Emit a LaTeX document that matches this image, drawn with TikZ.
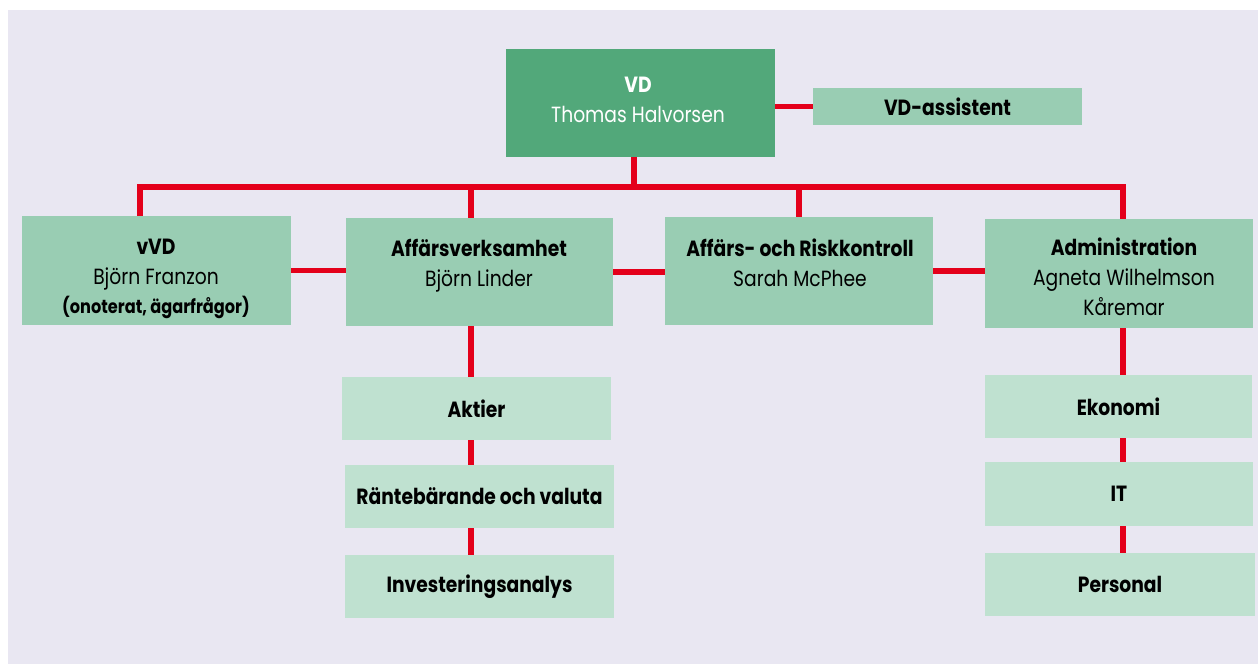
\documentclass[tikz,border=0pt]{standalone}
\usepackage{fontspec}
\setmainfont[FakeStretch=0.85]{Poppins}
\usetikzlibrary{backgrounds}
\definecolor{bg}{HTML}{E9E7F2}
\definecolor{vdgreen}{HTML}{52A87A}
\definecolor{midgreen}{HTML}{99CDB3}
\definecolor{lightgreen}{HTML}{BFE1D0}
\definecolor{linkred}{HTML}{E4001B}
\begin{document}
\begin{tikzpicture}[x=1pt,y=-1pt,
  box/.style={rectangle, inner sep=0pt, align=center, font=\fontsize{22}{30}\selectfont},
  vdbox/.style={box, fill=vdgreen},
  midbox/.style={box, fill=midgreen},
  lightbox/.style={box, fill=lightgreen, font=\fontsize{22}{30}\selectfont\bfseries},
  txt/.style={inner sep=0pt, align=center, anchor=base, font=\fontsize{22}{30}\selectfont},
  link/.style={draw=linkred, line width=5.5pt, line join=miter}
]
\useasboundingbox (0,0) rectangle (1258,664);
% boxes (text nodes anchored at the baseline of their last line)
\node[vdbox, minimum width=269pt, minimum height=108pt] (vd) at (640.5,103) {};
\node[txt, text=white] (vd-t) at (638,122) {\textbf{VD}\\Thomas Halvorsen};
\node[midbox, minimum width=269pt, minimum height=37pt, font=\fontsize{22}{30}\selectfont\bfseries] (assist) at (947.5,106.5) {VD-assistent};
\node[midbox, minimum width=269pt, minimum height=109pt] (vvd) at (156.5,270.5) {};
\node[txt] (vvd-t) at (156,313) {\textbf{vVD}\\Björn Franzon\\[-1pt]{\fontsize{19}{22}\selectfont\bfseries (onoterat, ägarfrågor)}};
\node[midbox, minimum width=267pt, minimum height=108pt] (aff) at (479.5,272) {};
\node[txt] (aff-t) at (479,286) {\textbf{Affärsverksamhet}\\Björn Linder};
\node[midbox, minimum width=268pt, minimum height=108pt] (risk) at (799,271) {};
\node[txt] (risk-t) at (800,286) {\textbf{Affärs- och Riskkontroll}\\Sarah McPhee};
\node[midbox, minimum width=268pt, minimum height=109pt] (adm) at (1119,273.5) {};
\node[txt] (adm-t) at (1124,315) {\textbf{Administration}\\Agneta Wilhelmson\\Kåremar};
\node[lightbox, minimum width=269pt, minimum height=63pt] (aktier) at (476.5,408.5) {Aktier};
\node[lightbox, minimum width=269pt, minimum height=63pt] (ranta) at (479.5,496.5) {Räntebärande och valuta};
\node[lightbox, minimum width=269pt, minimum height=63pt] (inv) at (479.5,586.5) {Investeringsanalys};
\node[lightbox, minimum width=267pt, minimum height=63pt] (ekon) at (1118.5,406.5) {Ekonomi};
\node[lightbox, minimum width=268pt, minimum height=64pt] (it) at (1119,494) {IT};
\node[lightbox, minimum width=270pt, minimum height=63pt] (pers) at (1120,584.5) {Personal};
% connectors
\begin{pgfonlayer}{background}
\fill[bg] (8,10) rectangle (1258,664);
\coordinate (bus) at (634,187);
\coordinate (bL) at (140,187);
\coordinate (bR) at (1123,187);
\coordinate (xa) at (471,187);
\coordinate (xr) at (799,187);
\draw[link] (vd.east |- assist.west) -- (assist.west);
\draw[link] (vd.south -| bus) -- (bus);
\draw[link] (vvd.north -| bL) -- (bL) -- (bR) -- (adm.north -| bR);
\draw[link] (xa) -- (aff.north -| xa);
\draw[link] (xr) -- (risk.north -| xr);
\draw[link] (vvd.east) -- (vvd.east -| aff.west);
\draw[link] (aff.east) -- (aff.east -| risk.west);
\draw[link] (risk.east) -- (risk.east -| adm.west);
\draw[link] (aff.south -| xa) -- (inv.north -| xa);
\draw[link] (adm.south -| bR) -- (pers.north -| bR);
\end{pgfonlayer}
\end{tikzpicture}
\end{document}
